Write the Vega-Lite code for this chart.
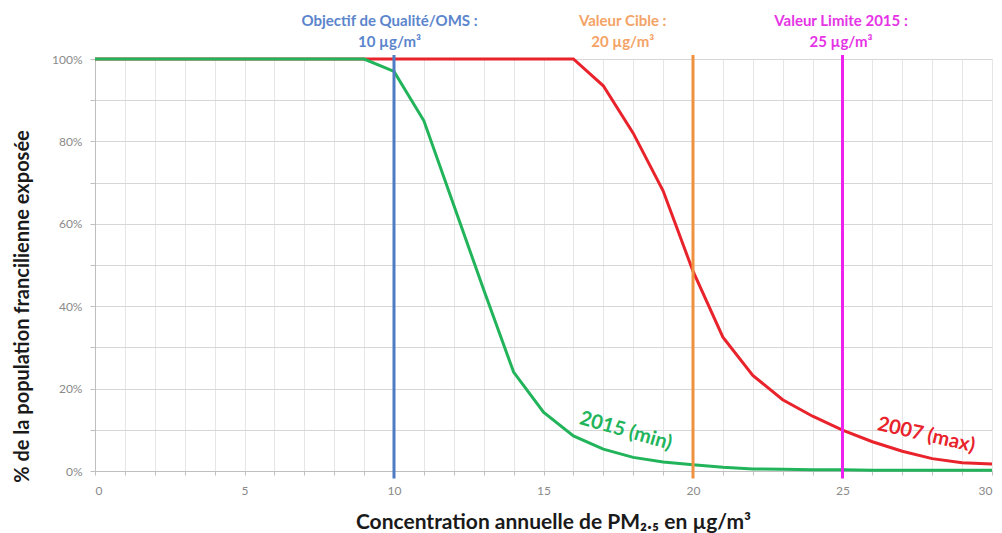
{
  "$schema": "https://vega.github.io/schema/vega-lite/v6.json",
  "width": 897,
  "height": 412,
  "autosize": "none",
  "padding": {"left": 95, "top": 59, "right": 10, "bottom": 62},
  "config": {"view": {"stroke": null}, "font": "Lato"},
  "datasets": {
    "curves": [
      {"x": 0, "pct": 100, "serie": "2007"}, {"x": 1, "pct": 100, "serie": "2007"}, {"x": 2, "pct": 100, "serie": "2007"}, {"x": 3, "pct": 100, "serie": "2007"}, {"x": 4, "pct": 100, "serie": "2007"}, {"x": 5, "pct": 100, "serie": "2007"}, {"x": 6, "pct": 100, "serie": "2007"}, {"x": 7, "pct": 100, "serie": "2007"}, {"x": 8, "pct": 100, "serie": "2007"}, {"x": 9, "pct": 100, "serie": "2007"}, {"x": 10, "pct": 100, "serie": "2007"}, {"x": 11, "pct": 100, "serie": "2007"}, {"x": 12, "pct": 100, "serie": "2007"}, {"x": 13, "pct": 100, "serie": "2007"}, {"x": 14, "pct": 100, "serie": "2007"}, {"x": 15, "pct": 100, "serie": "2007"}, {"x": 16, "pct": 100, "serie": "2007"}, {"x": 17, "pct": 93.5, "serie": "2007"}, {"x": 18, "pct": 82, "serie": "2007"}, {"x": 19, "pct": 68, "serie": "2007"}, {"x": 20, "pct": 48.5, "serie": "2007"}, {"x": 21, "pct": 32.5, "serie": "2007"}, {"x": 22, "pct": 23.2, "serie": "2007"}, {"x": 23, "pct": 17.3, "serie": "2007"}, {"x": 24, "pct": 13.3, "serie": "2007"}, {"x": 25, "pct": 9.9, "serie": "2007"}, {"x": 26, "pct": 7.1, "serie": "2007"}, {"x": 27, "pct": 4.8, "serie": "2007"}, {"x": 28, "pct": 3.0, "serie": "2007"}, {"x": 29, "pct": 2.0, "serie": "2007"}, {"x": 30, "pct": 1.7, "serie": "2007"},
      {"x": 0, "pct": 100, "serie": "2015"}, {"x": 1, "pct": 100, "serie": "2015"}, {"x": 2, "pct": 100, "serie": "2015"}, {"x": 3, "pct": 100, "serie": "2015"}, {"x": 4, "pct": 100, "serie": "2015"}, {"x": 5, "pct": 100, "serie": "2015"}, {"x": 6, "pct": 100, "serie": "2015"}, {"x": 7, "pct": 100, "serie": "2015"}, {"x": 8, "pct": 100, "serie": "2015"}, {"x": 9, "pct": 100, "serie": "2015"}, {"x": 10, "pct": 97, "serie": "2015"}, {"x": 11, "pct": 85, "serie": "2015"}, {"x": 12, "pct": 64.5, "serie": "2015"}, {"x": 13, "pct": 44, "serie": "2015"}, {"x": 14, "pct": 24, "serie": "2015"}, {"x": 15, "pct": 14.3, "serie": "2015"}, {"x": 16, "pct": 8.5, "serie": "2015"}, {"x": 17, "pct": 5.3, "serie": "2015"}, {"x": 18, "pct": 3.3, "serie": "2015"}, {"x": 19, "pct": 2.2, "serie": "2015"}, {"x": 20, "pct": 1.5, "serie": "2015"}, {"x": 21, "pct": 0.9, "serie": "2015"}, {"x": 22, "pct": 0.5, "serie": "2015"}, {"x": 23, "pct": 0.4, "serie": "2015"}, {"x": 24, "pct": 0.3, "serie": "2015"}, {"x": 25, "pct": 0.3, "serie": "2015"}, {"x": 26, "pct": 0.2, "serie": "2015"}, {"x": 27, "pct": 0.2, "serie": "2015"}, {"x": 28, "pct": 0.2, "serie": "2015"}, {"x": 29, "pct": 0.2, "serie": "2015"}, {"x": 30, "pct": 0.2, "serie": "2015"}
    ],
    "thresholds": [
      {"x": 10, "lx": 9.85, "label": "Objectif de Qualité/OMS :\n10 µg/m³", "kind": "oms"},
      {"x": 20, "lx": 17.65, "label": "Valeur Cible :\n20 µg/m³", "kind": "cible"},
      {"x": 25, "lx": 24.95, "label": "Valeur Limite 2015 :\n25 µg/m³", "kind": "limite"}
    ],
    "curveLabels": [
      {"x": 17.75, "pct": 9.7, "text": "2015 (min)", "serie": "2015"},
      {"x": 27.8, "pct": 8.7, "text": "2007 (max)", "serie": "2007"}
    ]
  },
  "layer": [
    {
      "data": {"name": "curves"},
      "mark": {"type": "line", "strokeWidth": 3},
      "encoding": {
        "x": {
          "field": "x", "type": "quantitative",
          "scale": {"domain": [0, 30], "nice": false},
          "axis": {
            "orient": "bottom",
            "values": [0, 5, 10, 15, 20, 25, 30],
            "format": "d",
            "grid": false, "domain": false, "ticks": false,
            "labelColor": "#8a8a8a", "labelFontSize": 12, "labelPadding": 14,
            "title": "Concentration annuelle de PM₂.₅ en µg/m³",
            "titleFontSize": 21, "titleFontWeight": "bold", "titleColor": "#1a1a1a",
            "titleX": 458, "titleY": 51, "titleBaseline": "middle"
          }
        },
        "y": {
          "field": "pct", "type": "quantitative",
          "scale": {"domain": [0, 100], "nice": false},
          "axis": {
            "values": [0,5,10,15,20,25,30,35,40,45,50,55,60,65,70,75,80,85,90,95,100],
            "labelExpr": "datum.value % 20 === 0 ? datum.value + '%' : ''",
            "grid": true, "gridColor": "#d6d6d6", "gridWidth": 1,
            "domainColor": "#bfbfbf", "tickColor": "#bfbfbf", "tickSize": 5,
            "labelColor": "#8a8a8a", "labelFontSize": 12, "labelPadding": 8,
            "title": "% de la population francilienne exposée",
            "titleFontSize": 20, "titleFontWeight": "bold", "titleColor": "#1a1a1a",
            "titleX": -73, "titleY": 247, "titleAngle": -90, "titleBaseline": "middle", "titleAlign": "center"
          }
        },
        "color": {
          "field": "serie", "type": "nominal",
          "scale": {"domain": ["2007", "2015"], "range": ["#e8232b", "#22b45a"]},
          "legend": null
        },
        "order": {"field": "x"}
      }
    },
    {
      "data": {"name": "thresholds"},
      "mark": {"type": "rule", "strokeWidth": 3, "clip": false},
      "encoding": {
        "x": {
          "field": "x", "type": "quantitative",
          "axis": {
            "orient": "bottom",
            "values": [0,1,2,3,4,5,6,7,8,9,10,11,12,13,14,15,16,17,18,19,20,21,22,23,24,25,26,27,28,29,30],
            "labels": false, "title": null,
            "grid": true, "gridColor": "#e6e6e6", "gridWidth": 1,
            "domainColor": "#bfbfbf", "tickColor": "#bfbfbf", "tickSize": 4
          }
        },
        "y": {"datum": 101},
        "y2": {"datum": -1.8},
        "color": {
          "field": "kind", "type": "nominal",
          "scale": {"domain": ["oms", "cible", "limite", "2007", "2015"], "range": ["#4f7bc2", "#f0913f", "#ee22ee", "#e8232b", "#22b45a"]},
          "legend": null
        }
      }
    },
    {
      "data": {"name": "thresholds"},
      "mark": {"type": "text", "fontSize": 15, "fontWeight": "bold", "lineBreak": "\n", "lineHeight": 21, "baseline": "middle", "align": "center", "dy": -38, "clip": false},
      "encoding": {
        "x": {"field": "lx", "type": "quantitative", "axis": null},
        "y": {"datum": 100},
        "text": {"field": "label"},
        "color": {
          "field": "kind", "type": "nominal",
          "scale": {"domain": ["oms", "cible", "limite"], "range": ["#5b85cc", "#f4a366", "#e534e5"]},
          "legend": null
        }
      }
    },
    {
      "data": {"name": "curveLabels"},
      "transform": [{"filter": "datum.serie === '2015'"}],
      "mark": {"type": "text", "fontSize": 20, "fontWeight": "bold", "angle": 16, "align": "center", "baseline": "middle", "color": "#22b45a"},
      "encoding": {
        "x": {"field": "x", "type": "quantitative", "axis": null},
        "y": {"field": "pct", "type": "quantitative"},
        "text": {"field": "text"}
      }
    },
    {
      "data": {"name": "curveLabels"},
      "transform": [{"filter": "datum.serie === '2007'"}],
      "mark": {"type": "text", "fontSize": 20, "fontWeight": "bold", "angle": 13, "align": "center", "baseline": "middle", "color": "#e8232b"},
      "encoding": {
        "x": {"field": "x", "type": "quantitative", "axis": null},
        "y": {"field": "pct", "type": "quantitative"},
        "text": {"field": "text"}
      }
    }
  ],
  "resolve": {"scale": {"color": "independent"}, "axis": {"x": "independent"}}
}
